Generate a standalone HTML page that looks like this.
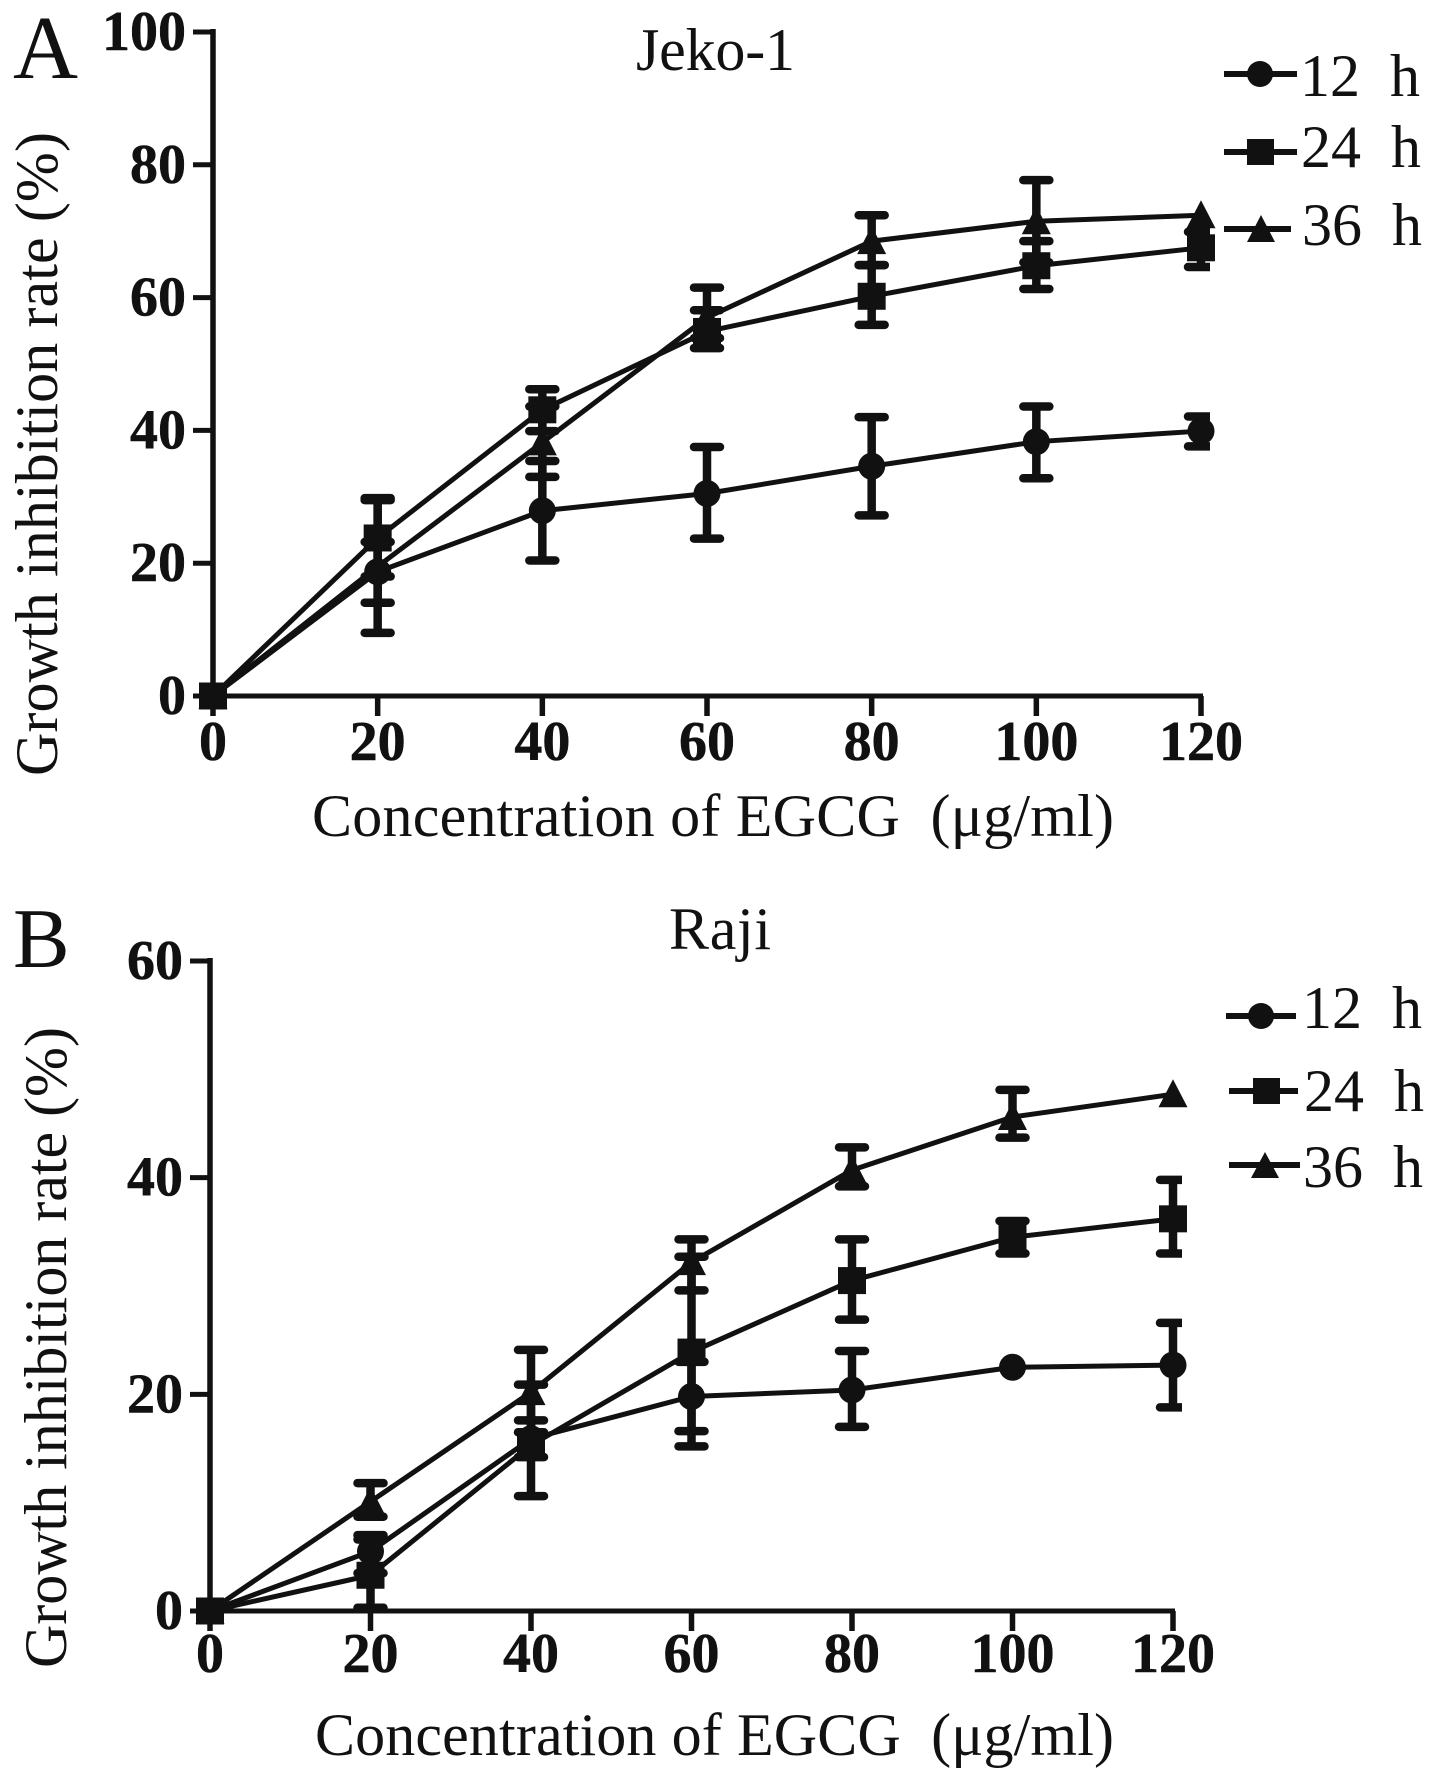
<!DOCTYPE html>
<html lang="en">
<head>
<meta charset="utf-8">
<title>Growth inhibition by EGCG in Jeko-1 and Raji cells</title>
<style>
html,body{margin:0;padding:0;background:#fff;}
body{width:1441px;height:1782px;overflow:hidden;}
svg{display:block;}
text{font-family:"Liberation Serif",serif;fill:#111;}
.tick{font-weight:bold;font-size:56px;stroke:#111;stroke-width:0.5px;}
.title{font-size:60px;}
.leg{font-size:60px;white-space:pre;}
</style>
</head>
<body>
<svg id="figure" xmlns="http://www.w3.org/2000/svg" width="1441" height="1782" viewBox="0 0 1441 1782">
  <rect width="1441" height="1782" fill="#fff"/>

  <g id="panel-a">
    <text x="13" y="78" font-size="90">A</text>
    <text class="title" x="636" y="70" textLength="159">Jeko-1</text>
    <text class="title" transform="translate(57,776) rotate(-90)" textLength="644">Growth inhibition rate (%)</text>
    <text class="title" x="312" y="836" textLength="802" xml:space="preserve">Concentration of EGCG  (μg/ml)</text>
    <g>
      <g>
        <line x1="1224" y1="74" x2="1297" y2="74" stroke="#111" stroke-width="6"/>
        <circle cx="1260" cy="74" r="13" fill="#111"/>
        <text class="leg" x="1300" y="96" xml:space="preserve">12  h</text>
      </g>
      <g>
        <line x1="1224" y1="152" x2="1297" y2="152" stroke="#111" stroke-width="6"/>
        <rect x="1247" y="139" width="27" height="26" fill="#111"/>
        <text class="leg" x="1301" y="167" xml:space="preserve">24  h</text>
      </g>
      <g>
        <line x1="1224" y1="229" x2="1291" y2="229" stroke="#111" stroke-width="6"/>
        <polygon points="1261,215 1275,242 1247,242" fill="#111"/>
        <text class="leg" x="1302" y="245" xml:space="preserve">36  h</text>
      </g>
    </g>
  </g>

  <g id="panel-b">
    <text x="13" y="967" font-size="85">B</text>
    <text class="title" x="669" y="949" textLength="102">Raji</text>
    <text class="title" transform="translate(66,1668) rotate(-90)" textLength="641">Growth inhibition rate (%)</text>
    <text class="title" x="315" y="1755" textLength="799" xml:space="preserve">Concentration of EGCG  (μg/ml)</text>
    <g>
      <g>
        <line x1="1226" y1="1016" x2="1296" y2="1016" stroke="#111" stroke-width="6"/>
        <circle cx="1261" cy="1016" r="13" fill="#111"/>
        <text class="leg" x="1302" y="1028" xml:space="preserve">12  h</text>
      </g>
      <g>
        <line x1="1229" y1="1091" x2="1298" y2="1091" stroke="#111" stroke-width="6"/>
        <rect x="1253" y="1078" width="27" height="26" fill="#111"/>
        <text class="leg" x="1304" y="1111" xml:space="preserve">24  h</text>
      </g>
      <g>
        <line x1="1229" y1="1165" x2="1300" y2="1165" stroke="#111" stroke-width="6"/>
        <polygon points="1265,1152 1279,1178 1251,1178" fill="#111"/>
        <text class="leg" x="1303" y="1187" xml:space="preserve">36  h</text>
      </g>
    </g>
  </g>
</svg>

<script>
// Shared concentrations (x categories)
const concentrations = [0, 20, 40, 60, 80, 100, 120];
const xTickLabels = ['0', '20', '40', '60', '80', '100', '120'];

// Panel A: Jeko-1
const jekoYTicks = [0, 20, 40, 60, 80, 100];
const jeko12h = [0, 18.7, 27.9, 30.5, 34.6, 38.3, 39.9];
const jeko12hUpper = [null, 23.2, 35.4, 37.5, 42, 43.6, 42.1];
const jeko12hLower = [null, 14.05, 20.4, 23.7, 27.2, 32.8, 37.6];
const jeko24h = [0, 23.8, 43.1, 54.9, 60.2, 64.8, 67.5];
const jeko24hUpper = [null, 29.8, 46.2, 58.1, 64.9, 68.5, 69.9];
const jeko24hLower = [null, 18, 39.9, 52.4, 55.9, 61.3, 64.6];
const jeko36h = [0, 19.5, 38.2, 57, 68.5, 71.5, 72.4];
const jeko36hUpper = [null, 29.5, 43.6, 61.5, 72.4, 77.7, null];
const jeko36hLower = [null, 9.5, 33, 53.9, 64.9, 65.3, null];

// Panel B: Raji
const rajiYTicks = [0, 20, 40, 60];
const raji12h = [0, 5.5, 15.9, 19.8, 20.4, 22.5, 22.7];
const raji12hUpper = [null, 7, 17.6, 23, 24, null, 26.6];
const raji12hLower = [null, 3.5, 14.2, 16.6, 17, null, 18.8];
const raji24h = [0, 3.3, 15.3, 23.9, 30.5, 34.5, 36.2];
const raji24hUpper = [null, 6.6, 20.9, 32.7, 34.3, 36, 39.8];
const raji24hLower = [null, 0.3, 10.6, 15.2, 26.9, 33, 33];
const raji36h = [0, 10.1, 20.2, 32.2, 40.7, 45.6, 47.7];
const raji36hUpper = [null, 11.8, 24.1, 34.3, 42.8, 48.1, null];
const raji36hLower = [null, 8.7, 16.5, 29.6, 39.2, 43.7, null];

const NS = 'http://www.w3.org/2000/svg';
const INK = '#111';

function make(tag, attrs, parent) {
  const node = document.createElementNS(NS, tag);
  for (const key in attrs) node.setAttribute(key, attrs[key]);
  parent.appendChild(node);
  return node;
}

function drawMarker(kind, cx, cy, parent) {
  let node;
  if (kind === 'circle') {
    node = make('circle', {cx: cx, cy: cy, r: 13.5, fill: INK}, parent);
  } else if (kind === 'square') {
    node = make('rect', {x: cx - 14, y: cy - 13.5, width: 28, height: 27, fill: INK}, parent);
  } else {
    const pts = cx + ',' + (cy - 15) + ' ' + (cx + 14.5) + ',' + (cy + 13) + ' ' + (cx - 14.5) + ',' + (cy + 13);
    node = make('polygon', {points: pts, fill: INK}, parent);
  }
  return node;
}

function drawPanel(root, layout, yMax, yTicks, seriesList) {
  const xScale = function (v) {
    return layout.x0 + v * (layout.x120 - layout.x0) / 120;
  };
  const yScale = function (v) {
    return layout.y0 - v * (layout.y0 - layout.yTop) / yMax;
  };

  // Error-bar caps are cut off just right of the last category, as in the source figure
  const clip = make('clipPath', {id: root.id + '-bar-clip'}, root);
  make('rect', {x: 0, y: 0, width: xScale(120) + 9, height: 1782}, clip);

  const axes = make('g', {}, root);
  
  

  const yAxis = make('line', {x1: layout.x0, x2: layout.x0, y1: yScale(yMax) - 3, y2: yScale(0) + 3, stroke: INK, 'stroke-width': 5.5}, axes);
  
  

  const xAxis = make('line', {x1: xScale(0), x2: xScale(120) + 2, y1: yScale(0), y2: yScale(0), stroke: INK, 'stroke-width': 5}, axes);
  
  

  yTicks.forEach(function (t) {
    const tick = make('line', {x1: layout.x0 - 20, x2: layout.x0, y1: yScale(t), y2: yScale(t), stroke: INK, 'stroke-width': 5}, axes);
    
    
    const label = make('text', {x: layout.x0 - 27, y: yScale(t) + 18, 'text-anchor': 'end', 'class': 'tick'}, axes);
    
    
    label.textContent = String(t);
  });

  concentrations.forEach(function (c, i) {
    const tick = make('line', {x1: xScale(c), x2: xScale(c), y1: yScale(0), y2: yScale(0) + 20, stroke: INK, 'stroke-width': 5.5}, axes);
    
    
    const label = make('text', {x: xScale(c), y: layout.labelY, 'text-anchor': 'middle', 'class': 'tick'}, axes);
    
    
    label.textContent = xTickLabels[i];
  });

  seriesList.forEach(function (s) {
    const group = make('g', {}, root);
    
    

    const pts = concentrations.map(function (c, i) {
      return xScale(c) + ',' + yScale(s.values[i]);
    }).join(' ');
    const line = make('polyline', {points: pts, fill: 'none', stroke: INK, 'stroke-width': 5, 'stroke-linejoin': 'round'}, group);
    
    

    concentrations.forEach(function (c, i) {
      const cx = xScale(c);
      if (s.upper[i] !== null) {
        const errorBar = make('g', {stroke: INK, fill: 'none', 'clip-path': 'url(#' + root.id + '-bar-clip)'}, group);
        
        
        const top = yScale(s.upper[i]);
        const bottom = yScale(s.lower[i]);
        make('line', {x1: cx, x2: cx, y1: top, y2: bottom, 'stroke-width': 8.5}, errorBar);
        make('line', {x1: cx - 13, x2: cx + 13, y1: top, y2: top, 'stroke-width': 8.5, 'stroke-linecap': 'round'}, errorBar);
        make('line', {x1: cx - 13, x2: cx + 13, y1: bottom, y2: bottom, 'stroke-width': 8.5, 'stroke-linecap': 'round'}, errorBar);
      }
      const marker = drawMarker(s.marker, cx, yScale(s.values[i]), group);
      
      
    });
  });
}

drawPanel(document.getElementById('panel-a'),
  {x0: 213, x120: 1201, y0: 696, yTop: 32, labelY: 760},
  100, jekoYTicks, [
    {name: '12h', marker: 'circle', values: jeko12h, upper: jeko12hUpper, lower: jeko12hLower},
    {name: '36h', marker: 'triangle', values: jeko36h, upper: jeko36hUpper, lower: jeko36hLower},
    {name: '24h', marker: 'square', values: jeko24h, upper: jeko24hUpper, lower: jeko24hLower}
  ]);

drawPanel(document.getElementById('panel-b'),
  {x0: 210, x120: 1173, y0: 1611, yTop: 961, labelY: 1672},
  60, rajiYTicks, [
    {name: '12h', marker: 'circle', values: raji12h, upper: raji12hUpper, lower: raji12hLower},
    {name: '36h', marker: 'triangle', values: raji36h, upper: raji36hUpper, lower: raji36hLower},
    {name: '24h', marker: 'square', values: raji24h, upper: raji24hUpper, lower: raji24hLower}
  ]);
</script>
</body>
</html>
